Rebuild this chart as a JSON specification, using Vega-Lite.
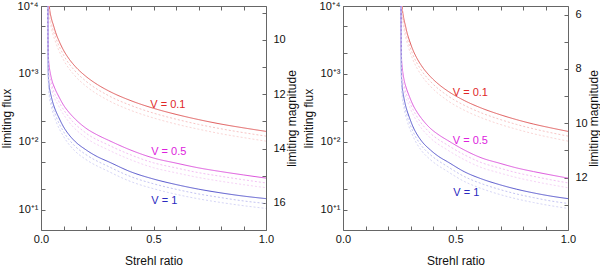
{
  "$schema": "https://vega.github.io/schema/vega-lite/v6.json",
  "padding": {"left": 0, "top": 0, "right": 0, "bottom": 0},
  "config": {
    "view": {"stroke": null},
    "axis": {"labelFont": "Liberation Sans", "titleFont": "Liberation Sans", "labelFontSize": 11, "titleFontSize": 12, "titleFontWeight": "normal", "grid": false, "domainColor": "#666", "tickColor": "#666", "labelColor": "#111", "titleColor": "#111", "tickSize": -4}
  },
  "datasets": {
    "L": [
      {"id":"r0","s":0.034,"f":14125},{"id":"r0","s":0.037,"f":10000},{"id":"r0","s":0.046,"f":6607},{"id":"r0","s":0.055,"f":5248},{"id":"r0","s":0.065,"f":4074},{"id":"r0","s":0.08,"f":3062},{"id":"r0","s":0.1,"f":2234},{"id":"r0","s":0.125,"f":1656},{"id":"r0","s":0.15,"f":1309},{"id":"r0","s":0.2,"f":916},{"id":"r0","s":0.25,"f":698},{"id":"r0","s":0.3,"f":562},{"id":"r0","s":0.4,"f":402},{"id":"r0","s":0.5,"f":311},{"id":"r0","s":0.6,"f":253},{"id":"r0","s":0.7,"f":212},{"id":"r0","s":0.8,"f":182},{"id":"r0","s":0.9,"f":160},{"id":"r0","s":1.0,"f":142},
      {"id":"r1","s":0.034,"f":12006},{"id":"r1","s":0.037,"f":8500},{"id":"r1","s":0.046,"f":5616},{"id":"r1","s":0.065,"f":3463},{"id":"r1","s":0.1,"f":1899},{"id":"r1","s":0.15,"f":1113},{"id":"r1","s":0.2,"f":779},{"id":"r1","s":0.3,"f":478},{"id":"r1","s":0.4,"f":342},{"id":"r1","s":0.5,"f":264},{"id":"r1","s":0.6,"f":215},{"id":"r1","s":0.7,"f":180},{"id":"r1","s":0.8,"f":155},{"id":"r1","s":0.9,"f":136},{"id":"r1","s":1.0,"f":121},
      {"id":"r2","s":0.034,"f":10170},{"id":"r2","s":0.037,"f":7200},{"id":"r2","s":0.046,"f":4757},{"id":"r2","s":0.065,"f":2933},{"id":"r2","s":0.1,"f":1608},{"id":"r2","s":0.15,"f":942},{"id":"r2","s":0.2,"f":660},{"id":"r2","s":0.3,"f":405},{"id":"r2","s":0.4,"f":289},{"id":"r2","s":0.5,"f":224},{"id":"r2","s":0.6,"f":182},{"id":"r2","s":0.7,"f":153},{"id":"r2","s":0.8,"f":131},{"id":"r2","s":0.9,"f":115},{"id":"r2","s":1.0,"f":102},
      {"id":"m0","s":0.0305,"f":19953},{"id":"m0","s":0.031,"f":3981},{"id":"m0","s":0.033,"f":1778},{"id":"m0","s":0.037,"f":1259},{"id":"m0","s":0.042,"f":1000},{"id":"m0","s":0.049,"f":794},{"id":"m0","s":0.061,"f":617},{"id":"m0","s":0.08,"f":457},{"id":"m0","s":0.1,"f":347},{"id":"m0","s":0.125,"f":269},{"id":"m0","s":0.15,"f":219},{"id":"m0","s":0.2,"f":158},{"id":"m0","s":0.25,"f":126},{"id":"m0","s":0.3,"f":105},{"id":"m0","s":0.4,"f":75},{"id":"m0","s":0.5,"f":57.5},{"id":"m0","s":0.6,"f":48.4},{"id":"m0","s":0.7,"f":41.2},{"id":"m0","s":0.8,"f":36.3},{"id":"m0","s":0.9,"f":32.4},{"id":"m0","s":1.0,"f":29.1},
      {"id":"m1","s":0.0305,"f":16960},{"id":"m1","s":0.031,"f":3384},{"id":"m1","s":0.033,"f":1511},{"id":"m1","s":0.037,"f":1070},{"id":"m1","s":0.049,"f":675},{"id":"m1","s":0.08,"f":388},{"id":"m1","s":0.125,"f":229},{"id":"m1","s":0.2,"f":134},{"id":"m1","s":0.3,"f":89.3},{"id":"m1","s":0.4,"f":63.8},{"id":"m1","s":0.5,"f":48.9},{"id":"m1","s":0.6,"f":41.1},{"id":"m1","s":0.7,"f":35.0},{"id":"m1","s":0.8,"f":30.9},{"id":"m1","s":0.9,"f":27.5},{"id":"m1","s":1.0,"f":24.7},
      {"id":"m2","s":0.0305,"f":14366},{"id":"m2","s":0.031,"f":2866},{"id":"m2","s":0.033,"f":1280},{"id":"m2","s":0.037,"f":906},{"id":"m2","s":0.049,"f":572},{"id":"m2","s":0.08,"f":329},{"id":"m2","s":0.125,"f":194},{"id":"m2","s":0.2,"f":114},{"id":"m2","s":0.3,"f":75.6},{"id":"m2","s":0.4,"f":54.0},{"id":"m2","s":0.5,"f":41.4},{"id":"m2","s":0.6,"f":34.8},{"id":"m2","s":0.7,"f":29.7},{"id":"m2","s":0.8,"f":26.1},{"id":"m2","s":0.9,"f":23.3},{"id":"m2","s":1.0,"f":21.0},
      {"id":"b0","s":0.0302,"f":19953},{"id":"b0","s":0.031,"f":2512},{"id":"b0","s":0.0325,"f":1000},{"id":"b0","s":0.035,"f":724},{"id":"b0","s":0.04,"f":562},{"id":"b0","s":0.046,"f":457},{"id":"b0","s":0.055,"f":355},{"id":"b0","s":0.065,"f":288},{"id":"b0","s":0.08,"f":224},{"id":"b0","s":0.1,"f":166},{"id":"b0","s":0.125,"f":126},{"id":"b0","s":0.15,"f":102},{"id":"b0","s":0.2,"f":75.9},{"id":"b0","s":0.25,"f":60.3},{"id":"b0","s":0.3,"f":50.7},{"id":"b0","s":0.4,"f":35.9},{"id":"b0","s":0.5,"f":28.2},{"id":"b0","s":0.6,"f":23.4},{"id":"b0","s":0.7,"f":20.0},{"id":"b0","s":0.8,"f":17.6},{"id":"b0","s":0.9,"f":15.8},{"id":"b0","s":1.0,"f":14.5},
      {"id":"b1","s":0.0302,"f":16960},{"id":"b1","s":0.031,"f":2135},{"id":"b1","s":0.0325,"f":850},{"id":"b1","s":0.035,"f":615},{"id":"b1","s":0.046,"f":388},{"id":"b1","s":0.065,"f":245},{"id":"b1","s":0.1,"f":141},{"id":"b1","s":0.15,"f":86.7},{"id":"b1","s":0.2,"f":64.5},{"id":"b1","s":0.3,"f":43.1},{"id":"b1","s":0.4,"f":30.5},{"id":"b1","s":0.5,"f":24.0},{"id":"b1","s":0.6,"f":19.9},{"id":"b1","s":0.7,"f":17.0},{"id":"b1","s":0.8,"f":15.0},{"id":"b1","s":0.9,"f":13.4},{"id":"b1","s":1.0,"f":12.3},
      {"id":"b2","s":0.0302,"f":14366},{"id":"b2","s":0.031,"f":1809},{"id":"b2","s":0.0325,"f":720},{"id":"b2","s":0.035,"f":521},{"id":"b2","s":0.046,"f":329},{"id":"b2","s":0.065,"f":207},{"id":"b2","s":0.1,"f":120},{"id":"b2","s":0.15,"f":73.4},{"id":"b2","s":0.2,"f":54.6},{"id":"b2","s":0.3,"f":36.5},{"id":"b2","s":0.4,"f":25.8},{"id":"b2","s":0.5,"f":20.3},{"id":"b2","s":0.6,"f":16.8},{"id":"b2","s":0.7,"f":14.4},{"id":"b2","s":0.8,"f":12.7},{"id":"b2","s":0.9,"f":11.4},{"id":"b2","s":1.0,"f":10.4}
    ],
    "R": [
      {"id":"r0","s":0.2607,"f":14125},{"id":"r0","s":0.2630,"f":10000},{"id":"r0","s":0.2699,"f":6607},{"id":"r0","s":0.2768,"f":5248},{"id":"r0","s":0.2844,"f":4074},{"id":"r0","s":0.2959,"f":3062},{"id":"r0","s":0.3112,"f":2234},{"id":"r0","s":0.3304,"f":1656},{"id":"r0","s":0.3495,"f":1309},{"id":"r0","s":0.3878,"f":916},{"id":"r0","s":0.4260,"f":698},{"id":"r0","s":0.4643,"f":562},{"id":"r0","s":0.5408,"f":402},{"id":"r0","s":0.6173,"f":311},{"id":"r0","s":0.6939,"f":253},{"id":"r0","s":0.7704,"f":212},{"id":"r0","s":0.8469,"f":182},{"id":"r0","s":0.9235,"f":160},{"id":"r0","s":1.0,"f":142},
      {"id":"r1","s":0.2607,"f":12006},{"id":"r1","s":0.2630,"f":8500},{"id":"r1","s":0.2699,"f":5616},{"id":"r1","s":0.2844,"f":3463},{"id":"r1","s":0.3112,"f":1899},{"id":"r1","s":0.3495,"f":1113},{"id":"r1","s":0.3878,"f":779},{"id":"r1","s":0.4643,"f":478},{"id":"r1","s":0.5408,"f":342},{"id":"r1","s":0.6173,"f":264},{"id":"r1","s":0.6939,"f":215},{"id":"r1","s":0.7704,"f":180},{"id":"r1","s":0.8469,"f":155},{"id":"r1","s":0.9235,"f":136},{"id":"r1","s":1.0,"f":121},
      {"id":"r2","s":0.2607,"f":10170},{"id":"r2","s":0.2630,"f":7200},{"id":"r2","s":0.2699,"f":4757},{"id":"r2","s":0.2844,"f":2933},{"id":"r2","s":0.3112,"f":1608},{"id":"r2","s":0.3495,"f":942},{"id":"r2","s":0.3878,"f":660},{"id":"r2","s":0.4643,"f":405},{"id":"r2","s":0.5408,"f":289},{"id":"r2","s":0.6173,"f":224},{"id":"r2","s":0.6939,"f":182},{"id":"r2","s":0.7704,"f":153},{"id":"r2","s":0.8469,"f":131},{"id":"r2","s":0.9235,"f":115},{"id":"r2","s":1.0,"f":102},
      {"id":"m0","s":0.2580,"f":19953},{"id":"m0","s":0.2584,"f":3981},{"id":"m0","s":0.2599,"f":1778},{"id":"m0","s":0.2630,"f":1259},{"id":"m0","s":0.2668,"f":1000},{"id":"m0","s":0.2722,"f":794},{"id":"m0","s":0.2814,"f":617},{"id":"m0","s":0.2959,"f":457},{"id":"m0","s":0.3112,"f":347},{"id":"m0","s":0.3304,"f":269},{"id":"m0","s":0.3495,"f":219},{"id":"m0","s":0.3878,"f":158},{"id":"m0","s":0.4260,"f":126},{"id":"m0","s":0.4643,"f":105},{"id":"m0","s":0.5408,"f":75},{"id":"m0","s":0.6173,"f":57.5},{"id":"m0","s":0.6939,"f":48.4},{"id":"m0","s":0.7704,"f":41.2},{"id":"m0","s":0.8469,"f":36.3},{"id":"m0","s":0.9235,"f":32.4},{"id":"m0","s":1.0,"f":29.1},
      {"id":"m1","s":0.2580,"f":16960},{"id":"m1","s":0.2584,"f":3384},{"id":"m1","s":0.2599,"f":1511},{"id":"m1","s":0.2630,"f":1070},{"id":"m1","s":0.2722,"f":675},{"id":"m1","s":0.2959,"f":388},{"id":"m1","s":0.3304,"f":229},{"id":"m1","s":0.3878,"f":134},{"id":"m1","s":0.4643,"f":89.3},{"id":"m1","s":0.5408,"f":63.8},{"id":"m1","s":0.6173,"f":48.9},{"id":"m1","s":0.6939,"f":41.1},{"id":"m1","s":0.7704,"f":35.0},{"id":"m1","s":0.8469,"f":30.9},{"id":"m1","s":0.9235,"f":27.5},{"id":"m1","s":1.0,"f":24.7},
      {"id":"m2","s":0.2580,"f":14366},{"id":"m2","s":0.2584,"f":2866},{"id":"m2","s":0.2599,"f":1280},{"id":"m2","s":0.2630,"f":906},{"id":"m2","s":0.2722,"f":572},{"id":"m2","s":0.2959,"f":329},{"id":"m2","s":0.3304,"f":194},{"id":"m2","s":0.3878,"f":114},{"id":"m2","s":0.4643,"f":75.6},{"id":"m2","s":0.5408,"f":54.0},{"id":"m2","s":0.6173,"f":41.4},{"id":"m2","s":0.6939,"f":34.8},{"id":"m2","s":0.7704,"f":29.7},{"id":"m2","s":0.8469,"f":26.1},{"id":"m2","s":0.9235,"f":23.3},{"id":"m2","s":1.0,"f":21.0},
      {"id":"b0","s":0.2578,"f":19953},{"id":"b0","s":0.2584,"f":2512},{"id":"b0","s":0.2596,"f":1000},{"id":"b0","s":0.2615,"f":724},{"id":"b0","s":0.2653,"f":562},{"id":"b0","s":0.2699,"f":457},{"id":"b0","s":0.2768,"f":355},{"id":"b0","s":0.2844,"f":288},{"id":"b0","s":0.2959,"f":224},{"id":"b0","s":0.3112,"f":166},{"id":"b0","s":0.3304,"f":126},{"id":"b0","s":0.3495,"f":102},{"id":"b0","s":0.3878,"f":75.9},{"id":"b0","s":0.4260,"f":60.3},{"id":"b0","s":0.4643,"f":50.7},{"id":"b0","s":0.5408,"f":35.9},{"id":"b0","s":0.6173,"f":28.2},{"id":"b0","s":0.6939,"f":23.4},{"id":"b0","s":0.7704,"f":20.0},{"id":"b0","s":0.8469,"f":17.6},{"id":"b0","s":0.9235,"f":15.8},{"id":"b0","s":1.0,"f":14.5},
      {"id":"b1","s":0.2578,"f":16960},{"id":"b1","s":0.2584,"f":2135},{"id":"b1","s":0.2596,"f":850},{"id":"b1","s":0.2615,"f":615},{"id":"b1","s":0.2699,"f":388},{"id":"b1","s":0.2844,"f":245},{"id":"b1","s":0.3112,"f":141},{"id":"b1","s":0.3495,"f":86.7},{"id":"b1","s":0.3878,"f":64.5},{"id":"b1","s":0.4643,"f":43.1},{"id":"b1","s":0.5408,"f":30.5},{"id":"b1","s":0.6173,"f":24.0},{"id":"b1","s":0.6939,"f":19.9},{"id":"b1","s":0.7704,"f":17.0},{"id":"b1","s":0.8469,"f":15.0},{"id":"b1","s":0.9235,"f":13.4},{"id":"b1","s":1.0,"f":12.3},
      {"id":"b2","s":0.2578,"f":14366},{"id":"b2","s":0.2584,"f":1809},{"id":"b2","s":0.2596,"f":720},{"id":"b2","s":0.2615,"f":521},{"id":"b2","s":0.2699,"f":329},{"id":"b2","s":0.2844,"f":207},{"id":"b2","s":0.3112,"f":120},{"id":"b2","s":0.3495,"f":73.4},{"id":"b2","s":0.3878,"f":54.6},{"id":"b2","s":0.4643,"f":36.5},{"id":"b2","s":0.5408,"f":25.8},{"id":"b2","s":0.6173,"f":20.3},{"id":"b2","s":0.6939,"f":16.8},{"id":"b2","s":0.7704,"f":14.4},{"id":"b2","s":0.8469,"f":12.7},{"id":"b2","s":0.9235,"f":11.4},{"id":"b2","s":1.0,"f":10.4}
    ],
    "TL": [
      {"id":"rt","s":0.564,"f":343,"t":"V = 0.1"},
      {"id":"mt","s":0.568,"f":70.3,"t":"V = 0.5"},
      {"id":"bt","s":0.548,"f":13.6,"t":"V = 1"}
    ],
    "TR": [
      {"id":"rt","s":0.566,"f":527,"t":"V = 0.1"},
      {"id":"mt","s":0.566,"f":102,"t":"V = 0.5"},
      {"id":"bt","s":0.548,"f":17.5,"t":"V = 1"}
    ],
    "ML": [{"m":10}],
    "XT": [{"s":0}]
  },
  "spacing": 77,
  "bounds": "flush",
  "hconcat": [
    {
      "width": 225, "height": 224,
      "layer": [
        {
          "data": {"name": "L"},
          "mark": {"type": "line", "clip": true, "strokeWidth": 1, "interpolate": "monotone"},
          "encoding": {
            "x": {"field": "s", "type": "quantitative", "scale": {"domain": [0, 1], "nice": false},
                  "axis": {"orient": "bottom", "title": "Strehl ratio", "values": [0,0.1,0.2,0.3,0.4,0.5,0.6,0.7,0.8,0.9,1], "labelExpr": "(datum.value==0||datum.value==0.5||datum.value==1) ? format(datum.value,'.1f') : ''", "labelFlush": false, "labelPadding": 7, "titlePadding": 11}},
            "y": {"field": "f", "type": "quantitative", "scale": {"type": "log", "domain": [5, 10000], "nice": false},
                  "axis": {"orient": "left", "title": "limiting flux", "values": [10,20,50,100,200,500,1000,2000,5000,10000], "labelExpr": "datum.value==10?'10⁺¹':datum.value==100?'10⁺²':datum.value==1000?'10⁺³':datum.value==10000?'10⁺⁴':''", "labelPadding": 7, "titlePadding": 4}},
            "color": {"field": "id", "type": "nominal", "legend": null,
                      "scale": {"domain": ["r0","r1","r2","m0","m1","m2","b0","b1","b2","rt","mt","bt"], "range": ["#e05a5a","#f7c4c4","#fad6d6","#dd55dd","#f3c0f3","#f6d4f6","#5454cc","#c4c4f2","#d6d6f6","#e02828","#dd22dd","#2a2ac0"]}},
            "strokeDash": {"field": "id", "type": "nominal", "legend": null,
                      "scale": {"domain": ["r0","r1","r2","m0","m1","m2","b0","b1","b2"], "range": [[1,0],[2,2],[2,2],[1,0],[2,2],[2,2],[1,0],[2,2],[2,2]]}}
          }
        },
        {
          "data": {"name": "TL"},
          "mark": {"type": "text", "font": "Liberation Sans", "fontSize": 11, "align": "center", "baseline": "middle"},
          "encoding": {
            "x": {"field": "s", "type": "quantitative", "scale": {"domain": [0, 1], "nice": false}, "axis": null},
            "y": {"field": "f", "type": "quantitative", "scale": {"type": "log", "domain": [5, 10000], "nice": false}, "axis": null},
            "text": {"field": "t"},
            "color": {"field": "id", "type": "nominal", "legend": null}
          }
        },
        {
          "data": {"name": "ML"},
          "mark": {"type": "point", "opacity": 0},
          "encoding": {
            "y": {"field": "m", "type": "quantitative", "scale": {"domain": [8.75, 17], "reverse": true, "nice": false, "zero": false},
                  "axis": {"orient": "right", "title": "limiting magnitude", "titleAngle": 270, "titleBaseline": "top", "values": [9,10,11,12,13,14,15,16,17], "labelExpr": "datum.value % 2 == 0 ? datum.label : ''", "labelPadding": 11, "titlePadding": 1}}
          }
        },
        {
          "data": {"name": "XT"},
          "mark": {"type": "point", "opacity": 0},
          "encoding": {
            "x": {"field": "s", "type": "quantitative", "scale": {"domain": [0, 1], "nice": false},
                  "axis": {"orient": "top", "title": null, "labels": false, "values": [0,0.1,0.2,0.3,0.4,0.5,0.6,0.7,0.8,0.9,1]}}
          }
        }
      ],
      "resolve": {"scale": {"x": "independent", "y": "independent"}}
    },
    {
      "width": 225, "height": 224,
      "layer": [
        {
          "data": {"name": "R"},
          "mark": {"type": "line", "clip": true, "strokeWidth": 1, "interpolate": "monotone"},
          "encoding": {
            "x": {"field": "s", "type": "quantitative", "scale": {"domain": [0, 1], "nice": false},
                  "axis": {"orient": "bottom", "title": "Strehl ratio", "values": [0,0.1,0.2,0.3,0.4,0.5,0.6,0.7,0.8,0.9,1], "labelExpr": "(datum.value==0||datum.value==0.5||datum.value==1) ? format(datum.value,'.1f') : ''", "labelFlush": false, "labelPadding": 7, "titlePadding": 11}},
            "y": {"field": "f", "type": "quantitative", "scale": {"type": "log", "domain": [5, 10000], "nice": false},
                  "axis": {"orient": "left", "title": "limiting flux", "values": [10,20,50,100,200,500,1000,2000,5000,10000], "labelExpr": "datum.value==10?'10⁺¹':datum.value==100?'10⁺²':datum.value==1000?'10⁺³':datum.value==10000?'10⁺⁴':''", "labelPadding": 7, "titlePadding": 4}},
            "color": {"field": "id", "type": "nominal", "legend": null},
            "strokeDash": {"field": "id", "type": "nominal", "legend": null,
                      "scale": {"domain": ["r0","r1","r2","m0","m1","m2","b0","b1","b2"], "range": [[1,0],[2,2],[2,2],[1,0],[2,2],[2,2],[1,0],[2,2],[2,2]]}}
          }
        },
        {
          "data": {"name": "TR"},
          "mark": {"type": "text", "font": "Liberation Sans", "fontSize": 11, "align": "center", "baseline": "middle"},
          "encoding": {
            "x": {"field": "s", "type": "quantitative", "scale": {"domain": [0, 1], "nice": false}, "axis": null},
            "y": {"field": "f", "type": "quantitative", "scale": {"type": "log", "domain": [5, 10000], "nice": false}, "axis": null},
            "text": {"field": "t"},
            "color": {"field": "id", "type": "nominal", "legend": null}
          }
        },
        {
          "data": {"name": "ML"},
          "mark": {"type": "point", "opacity": 0},
          "encoding": {
            "y": {"field": "m", "type": "quantitative", "scale": {"domain": [5.68, 13.93], "reverse": true, "nice": false, "zero": false},
                  "axis": {"orient": "right", "title": "limiting magnitude", "titleAngle": 270, "titleBaseline": "top", "values": [6,7,8,9,10,11,12,13], "labelExpr": "datum.value % 2 == 0 ? datum.label : ''", "labelPadding": 11, "titlePadding": 1}}
          }
        },
        {
          "data": {"name": "XT"},
          "mark": {"type": "point", "opacity": 0},
          "encoding": {
            "x": {"field": "s", "type": "quantitative", "scale": {"domain": [0, 1], "nice": false},
                  "axis": {"orient": "top", "title": null, "labels": false, "values": [0,0.1,0.2,0.3,0.4,0.5,0.6,0.7,0.8,0.9,1]}}
          }
        }
      ],
      "resolve": {"scale": {"x": "independent", "y": "independent"}}
    }
  ]
}
